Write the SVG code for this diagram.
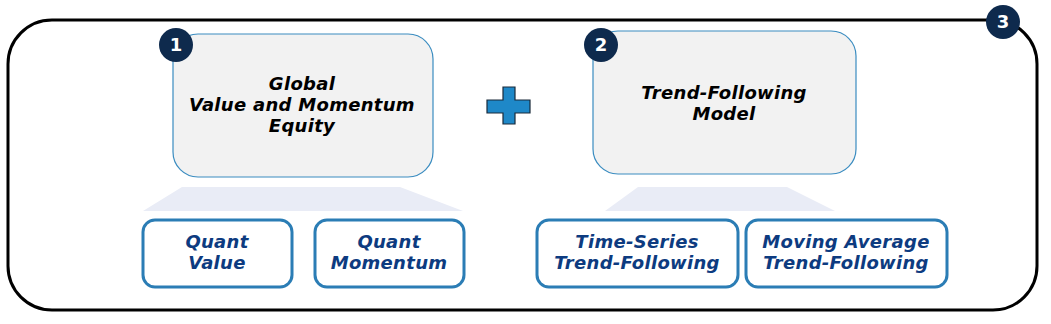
<svg xmlns="http://www.w3.org/2000/svg" width="1051" height="324" viewBox="0 0 1051 324">
<style>
.main{fill:#f2f2f2;stroke:#3a8cc0;stroke-width:1.2}
.sub{fill:#ffffff;stroke:#2b7db5;stroke-width:3}
.badge{fill:#0e2a4d}
.bnum{font-family:"DejaVu Sans",Verdana,sans-serif;font-weight:bold;font-size:18px;fill:#ffffff;text-anchor:middle}
.mt{font-family:"DejaVu Sans",Verdana,sans-serif;font-weight:bold;font-style:italic;font-size:18px;letter-spacing:0.3px;fill:#000000;text-anchor:middle}
.st{font-family:"DejaVu Sans",Verdana,sans-serif;font-weight:bold;font-style:italic;font-size:18px;letter-spacing:0.3px;fill:#0d3b80;text-anchor:middle}
.trap{fill:#e9ecf6}
</style>
<g id="outer">
<rect x="8" y="20" width="1029" height="290" rx="44" ry="44" fill="none" stroke="#000" stroke-width="3"/>
</g>
<g id="badge3"><circle class="badge" cx="1003" cy="22" r="17"/><text class="bnum" x="1003" y="28">3</text></g>
<g id="connectors">
<polygon class="trap" points="182,187 400,187 463,211 143,211"/>
<polygon class="trap" points="638,187 787,187 835,211 605,211"/>
</g>
<g id="node1">
<rect class="main" x="173" y="34" width="260" height="143" rx="25" ry="25"/>
<text class="mt" x="302" y="90">Global</text>
<text class="mt" x="302" y="111">Value and Momentum</text>
<text class="mt" x="302" y="132">Equity</text>
</g>
<g id="badge1"><circle class="badge" cx="176" cy="45" r="17"/><text class="bnum" x="176" y="51">1</text></g>
<g id="plus">
<path d="M503,87 H515 V100 H530 V113 H515 V124 H503 V113 H487 V100 H503 Z" fill="#1e88c8" stroke="#1a2a3a" stroke-width="1.2"/>
</g>
<g id="node2">
<rect class="main" x="593" y="31" width="263" height="143" rx="25" ry="25"/>
<text class="mt" x="724" y="99">Trend-Following</text>
<text class="mt" x="724" y="120">Model</text>
</g>
<g id="badge2"><circle class="badge" cx="601" cy="45" r="17"/><text class="bnum" x="601" y="51">2</text></g>
<g id="quant-value">
<rect class="sub" x="143" y="220" width="149" height="67" rx="12" ry="12"/>
<text class="st" x="217" y="248">Quant</text>
<text class="st" x="217" y="269">Value</text>
</g>
<g id="quant-momentum">
<rect class="sub" x="315" y="220" width="149" height="67" rx="12" ry="12"/>
<text class="st" x="389" y="248">Quant</text>
<text class="st" x="389" y="269">Momentum</text>
</g>
<g id="time-series">
<rect class="sub" x="537" y="220" width="201" height="67" rx="12" ry="12"/>
<text class="st" x="637" y="248">Time-Series</text>
<text class="st" x="637" y="269">Trend-Following</text>
</g>
<g id="moving-average">
<rect class="sub" x="746" y="220" width="201" height="67" rx="12" ry="12"/>
<text class="st" x="846" y="248">Moving Average</text>
<text class="st" x="846" y="269">Trend-Following</text>
</g>
</svg>
